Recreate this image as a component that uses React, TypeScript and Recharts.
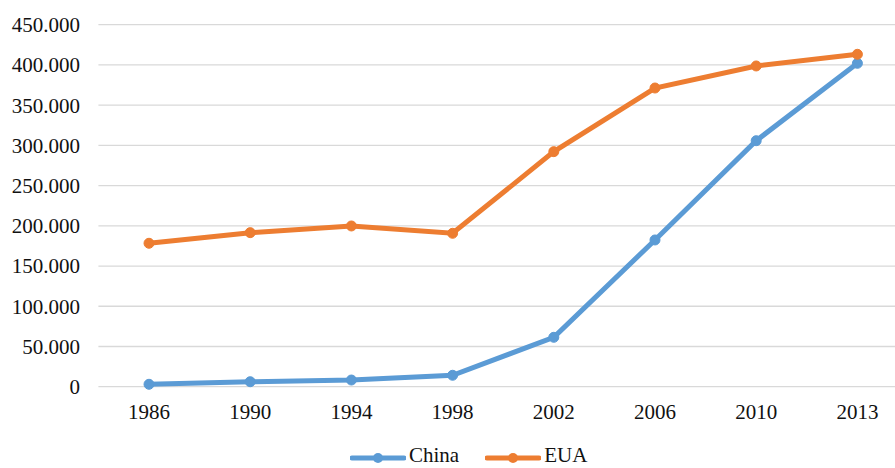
import { LineChart, Line, XAxis, YAxis, CartesianGrid, Legend } from 'recharts'

const years = ['1986', '1990', '1994', '1998', '2002', '2006', '2010', '2013']
const china = [3000, 6200, 8300, 14200, 61400, 182400, 305800, 402000]
const eua = [178300, 191500, 199800, 190700, 292200, 371300, 398700, 413200]
const yTicks = [0, 50000, 100000, 150000, 200000, 250000, 300000, 350000, 400000, 450000]

const series = [
  { key: 'china', name: 'China', color: '#5B9BD5' },
  { key: 'eua', name: 'EUA', color: '#ED7D31' },
]

const data = years.map((year, i) => ({ year, china: china[i], eua: eua[i] }))

const FONT = '"Liberation Serif", "Times New Roman", serif'
const TEXT = '#111111'

// 450000 -> "450.000"
const fmt = (v: number) => String(v).replace(/\B(?=(\d{3})+(?!\d))/g, '.')

function LegendContent() {
  return (
    <div style={{ display: 'flex', alignItems: 'center', height: 18, lineHeight: '18px', fontFamily: FONT, fontSize: 21, color: TEXT }}>
      {series.map((s, i) => (
        <div key={s.key} style={{ display: 'flex', alignItems: 'center', marginLeft: i === 0 ? 0 : 26 }}>
          <svg width={56} height={12} style={{ marginRight: 3, position: 'relative', top: 3 }}>
            <line x1={2} y1={6} x2={54} y2={6} stroke={s.color} strokeWidth={5} strokeLinecap="round" />
            <circle cx={28} cy={6} r={5} fill={s.color} />
          </svg>
          <span>{s.name}</span>
        </div>
      ))}
    </div>
  )
}

export default function App() {
  return (
    <div style={{ position: 'absolute', left: 0, top: 0, width: 895, height: 468, overflow: 'hidden', background: '#fff' }}>
      <LineChart width={910} height={468} data={data} margin={{ top: 24.7, right: 2, bottom: 51.3, left: 0 }}>
        <CartesianGrid vertical={false} stroke="#D9D9D9" strokeWidth={1.3} />
        <XAxis
          dataKey="year"
          height={30}
          padding={{ left: 50.6, right: 50.6 }}
          axisLine={false}
          tickLine={false}
          tickSize={0}
          tickMargin={17.3}
          tick={{ fill: TEXT, fontSize: 21, fontFamily: FONT }}
        />
        <YAxis
          width={98.4}
          domain={[0, 450000]}
          ticks={yTicks}
          tickFormatter={fmt}
          axisLine={false}
          tickLine={false}
          tickSize={0}
          tickMargin={18.4}
          tick={{ fill: TEXT, fontSize: 21, fontFamily: FONT }}
        />
        <Legend
          layout="horizontal"
          verticalAlign="middle"
          align="center"
          wrapperStyle={{ left: 350, top: 445.5, width: 'auto' }}
          content={<LegendContent />}
        />
        {series.map((s) => (
          <Line
            key={s.key}
            type="linear"
            dataKey={s.key}
            name={s.name}
            stroke={s.color}
            strokeWidth={5}
            dot={{ r: 5, fill: s.color, stroke: s.color, strokeWidth: 1 }}
            activeDot={false}
            isAnimationActive={false}
          />
        ))}
      </LineChart>
    </div>
  )
}
